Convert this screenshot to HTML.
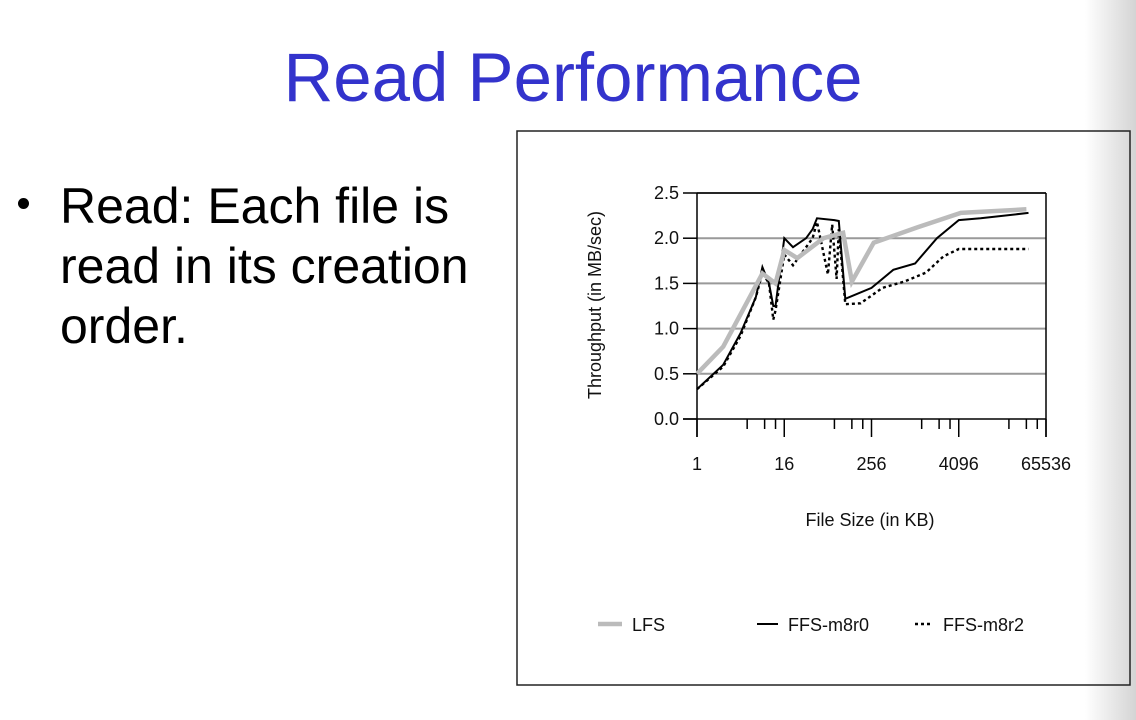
<!DOCTYPE html>
<html><head><meta charset="utf-8"><style>
html,body{margin:0;padding:0;}
body{width:1136px;height:720px;position:relative;overflow:hidden;background:#fff;font-family:"Liberation Sans",Arial,sans-serif;}
#fade{position:absolute;left:1085px;top:0;width:51px;height:720px;background:linear-gradient(to right,rgba(255,255,255,0),#d4d4d4);}
#title{position:absolute;left:0;width:1146px;text-align:center;top:38px;font-size:69px;color:#3333cc;line-height:80px;}
.bl{position:absolute;left:60px;font-size:50px;line-height:60px;color:#000;white-space:nowrap;}
#dot{position:absolute;left:18px;top:198px;width:11px;height:11px;border-radius:50%;background:#000;}
svg{position:absolute;left:0;top:0;}
</style></head><body>
<div id="fade"></div>
<div id="title">Read Performance</div>
<div id="dot"></div>
<div class="bl" style="top:176px">Read: Each file is</div>
<div class="bl" style="top:236px">read in its creation</div>
<div class="bl" style="top:296px">order.</div>
<svg id="chart" width="1136" height="720"></svg>
<script>
const yTicks=[0,0.5,1.0,1.5,2.0,2.5];
const xTickLabels=["1","16","256","4096","65536"];
const xTickLog=[0,4,8,12,16];
const minorOffsets=[2.3,3.1,3.6];
const lfsX=[0,1.2,3.0,3.6,4.0,4.6,5.8,6.7,7.1,8.1,10.1,12.1,15.1];
const lfsY=[0.5,0.8,1.61,1.5,1.87,1.78,2.0,2.06,1.52,1.95,2.12,2.28,2.32];
const r0X=[0,1.2,2,2.7,3.0,3.3,3.5,3.6,4.0,4.4,5.0,5.3,5.5,6.3,6.5,6.8,8.0,9.0,10.0,11.0,12.0,13,15.2];
const r0Y=[0.33,0.6,0.95,1.35,1.68,1.5,1.25,1.25,2.0,1.9,2.0,2.1,2.22,2.2,2.19,1.33,1.45,1.65,1.72,2.0,2.2,2.22,2.28];
const r2X=[0,1.2,2,2.7,3.0,3.3,3.5,3.6,4.0,4.4,5.0,5.3,5.5,6.0,6.2,6.4,6.5,6.8,7.5,8.5,9.5,10.5,11.3,12.0,15.2];
const r2Y=[0.33,0.58,0.92,1.35,1.62,1.5,1.1,1.2,1.82,1.7,1.9,2.0,2.18,1.6,2.15,1.55,2.1,1.27,1.28,1.45,1.52,1.62,1.8,1.88,1.88];

const svg=document.getElementById('chart');
const NS='http://www.w3.org/2000/svg';
const X0=697,X1=1046,Y0=419,Y1=193;
const sx=v=>X0+v*(X1-X0)/16;
const sy=v=>Y0-v*(Y0-Y1)/2.5;
function mk(tag,attrs){const e=document.createElementNS(NS,tag);for(const k in attrs)e.setAttribute(k,attrs[k]);svg.appendChild(e);return e;}

let e=mk('rect',{x:517,y:131,width:613,height:554,fill:'none',stroke:'#222','stroke-width':1.5});



yTicks.forEach(v=>{
  if(v>0){const g=mk('line',{x1:X0,x2:X1,y1:sy(v),y2:sy(v),stroke:'#999','stroke-width':2});
  
  }
  const t=mk('line',{x1:X0-14,x2:X0,y1:sy(v),y2:sy(v),stroke:'#000','stroke-width':1.5});
  
  
  const l=mk('text',{x:X0-18,y:sy(v)+6,'text-anchor':'end','font-size':18,fill:'#111'});
  l.textContent=v.toFixed(1);
  
  
});
e=mk('line',{x1:X0,x2:X0,y1:Y1,y2:Y0+18,stroke:'#000','stroke-width':1.5});


e=mk('line',{x1:X1,x2:X1,y1:Y1,y2:Y0+18,stroke:'#000','stroke-width':1.5});


e=mk('line',{x1:X0,x2:X1,y1:Y1,y2:Y1,stroke:'#000','stroke-width':1.5});


e=mk('line',{x1:X0-14,x2:X1,y1:Y0,y2:Y0,stroke:'#000','stroke-width':1.5});



xTickLog.forEach((v,i)=>{
  const t=mk('line',{x1:sx(v),x2:sx(v),y1:Y0,y2:Y0+18,stroke:'#000','stroke-width':1.5});
  
  
  const l=mk('text',{x:sx(v),y:Y0+51,'text-anchor':'middle','font-size':18,fill:'#111'});
  l.textContent=xTickLabels[i];
  
  
  if(i<xTickLog.length-1) minorOffsets.forEach(o=>{
    const m=mk('line',{x1:sx(v+o),x2:sx(v+o),y1:Y0,y2:Y0+10,stroke:'#000','stroke-width':1.5});
    
    
  });
});
e=mk('text',{x:870,y:526,'text-anchor':'middle','font-size':18,fill:'#111'});
e.textContent='File Size (in KB)';


e=mk('text',{x:601,y:305,'text-anchor':'middle','font-size':18,fill:'#111',transform:'rotate(-90 601 305)'});
e.textContent='Throughput (in MB/sec)';



function series(xs,ys,attrs,name){
  const d=xs.map((x,i)=>(i?'L':'M')+sx(x).toFixed(1)+' '+sy(ys[i]).toFixed(1)).join(' ');
  const p=mk('path',Object.assign({d:d,fill:'none'},attrs));
  
  
}
series(r2X,r2Y,{stroke:'#000','stroke-width':2.4,'stroke-dasharray':'3 3'},'ffs-m8r2-line');
series(r0X,r0Y,{stroke:'#000','stroke-width':2},'ffs-m8r0-line');
series(lfsX,lfsY,{stroke:'#bbb','stroke-width':4.5},'lfs-line');

const legend=[[598,622,'LFS',{stroke:'#bbb','stroke-width':4.5}],[757,778,'FFS-m8r0',{stroke:'#000','stroke-width':2}],[915,933,'FFS-m8r2',{stroke:'#000','stroke-width':2.4,'stroke-dasharray':'3 3'}]];
legend.forEach(L=>{
  const l=mk('line',Object.assign({x1:L[0],x2:L[1],y1:624,y2:624},L[3]));
  
  
  const t=mk('text',{x:L[1]+10,y:631,'font-size':18,fill:'#111'});
  t.textContent=L[2];
  
  
});
</script>
</body></html>
